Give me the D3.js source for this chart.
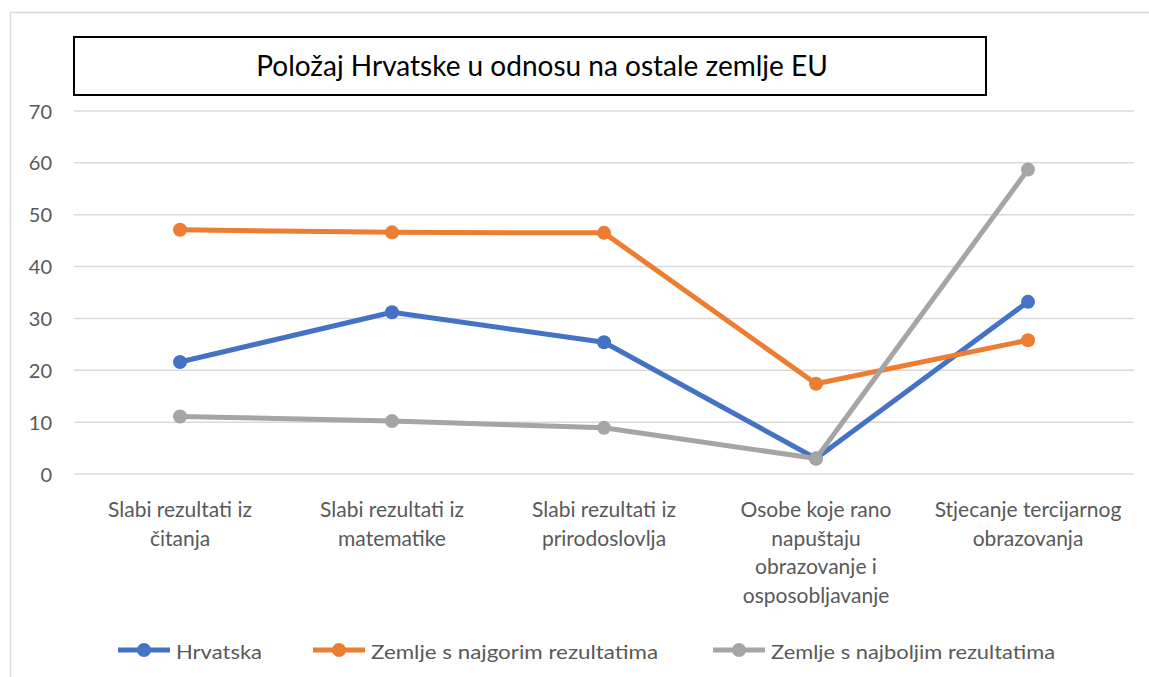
<!DOCTYPE html>
<html><head><meta charset="utf-8">
<script src="https://cdn.jsdelivr.net/npm/d3@7"></script>
<style>body{margin:0;background:#fff;}svg{display:block;font-family:Lato,"Liberation Sans",sans-serif;}</style>
</head><body>
<script>
const categories = [
  ["Slabi rezultati iz","čitanja"],
  ["Slabi rezultati iz","matematike"],
  ["Slabi rezultati iz","prirodoslovlja"],
  ["Osobe koje rano","napuštaju","obrazovanje i","osposobljavanje"],
  ["Stjecanje tercijarnog","obrazovanja"]
];
const seriesNames = ["Hrvatska","Zemlje s najgorim rezultatima","Zemlje s najboljim rezultatima"];
const hrvatska = [21.6, 31.2, 25.4, 3.0, 33.2];
const najgori = [47.1, 46.6, 46.5, 17.4, 25.8];
const najbolji = [11.1, 10.2, 8.9, 3.0, 58.7];
const yTicks = [0,10,20,30,40,50,60,70];
const colors = ["#4472c4","#ed7d31","#a5a5a5"];
const title = "Položaj Hrvatske u odnosu na ostale zemlje EU";

const W=1149,H=677;
const svg=d3.select("body").append("svg").attr("width",W).attr("height",H);
// outer frame
svg.append("line").attr("x1",10).attr("x2",W).attr("y1",12.5).attr("y2",12.5).attr("stroke","#d9d9d9").attr("stroke-width",1.5);
svg.append("line").attr("x1",10.5).attr("x2",10.5).attr("y1",12).attr("y2",H).attr("stroke","#d9d9d9").attr("stroke-width",1.5);

const x=d3.scaleBand().domain(d3.range(categories.length)).range([74,1134]);
const y=d3.scaleLinear().domain([0,70]).range([474,111]);

// gridlines
svg.append("g").selectAll("line").data(yTicks).join("line")
  .attr("x1",74).attr("x2",1134).attr("y1",d=>y(d)).attr("y2",d=>y(d))
  .attr("stroke","#d9d9d9").attr("stroke-width",1.5);

// y axis labels
const yAxis=d3.axisLeft(y).tickValues(yTicks).tickSize(0).tickPadding(0);
const ga=svg.append("g").attr("transform","translate(52,0)").call(yAxis);
ga.select(".domain").remove();
ga.selectAll("text").attr("font-size",20).attr("fill","#595959").attr("font-family","Lato,sans-serif").attr("dy","0.35em");

// title box
svg.append("rect").attr("x",74).attr("y",37).attr("width",912).attr("height",58).attr("fill","#fff").attr("stroke","#000").attr("stroke-width",2);
svg.append("text").attr("x",542).attr("y",76).attr("text-anchor","middle")
  .attr("font-size",28).attr("fill","#000").text(title);

// category labels
const cl=svg.append("g");
categories.forEach((lines,i)=>{
  const t=cl.append("text").attr("x",x(i)+x.bandwidth()/2).attr("y",517).attr("text-anchor","middle")
    .attr("font-size",21).attr("fill","#595959");
  lines.forEach((l,j)=>t.append("tspan").attr("x",x(i)+x.bandwidth()/2).attr("dy",j?28.5:0).text(l));
});

// series
const data=[hrvatska,najgori,najbolji];
const line=d3.line().x((d,i)=>x(i)+x.bandwidth()/2).y(d=>y(d));
data.forEach((s,k)=>{
  svg.append("path").datum(s).attr("d",line).attr("fill","none").attr("stroke",colors[k])
    .attr("stroke-width",5).attr("stroke-linejoin","round");
});
data.forEach((s,k)=>{
  svg.append("g").selectAll("circle").data(s).join("circle")
    .attr("cx",(d,i)=>x(i)+x.bandwidth()/2).attr("cy",d=>y(d)).attr("r",7).attr("fill",colors[k]);
});

// legend
const legX=[118,313,713], legW=[86,287,284];
seriesNames.forEach((n,k)=>{
  const g=svg.append("g");
  g.append("line").attr("x1",legX[k]).attr("x2",legX[k]+52).attr("y1",650).attr("y2",650).attr("stroke",colors[k]).attr("stroke-width",5);
  g.append("circle").attr("cx",legX[k]+26).attr("cy",650).attr("r",7).attr("fill",colors[k]);
  g.append("text").attr("x",legX[k]+58).attr("y",651).attr("dominant-baseline","central").attr("font-size",20)
    .attr("fill","#595959").attr("textLength",legW[k]).attr("lengthAdjust","spacingAndGlyphs").text(n);
});
</script>
</body></html>
